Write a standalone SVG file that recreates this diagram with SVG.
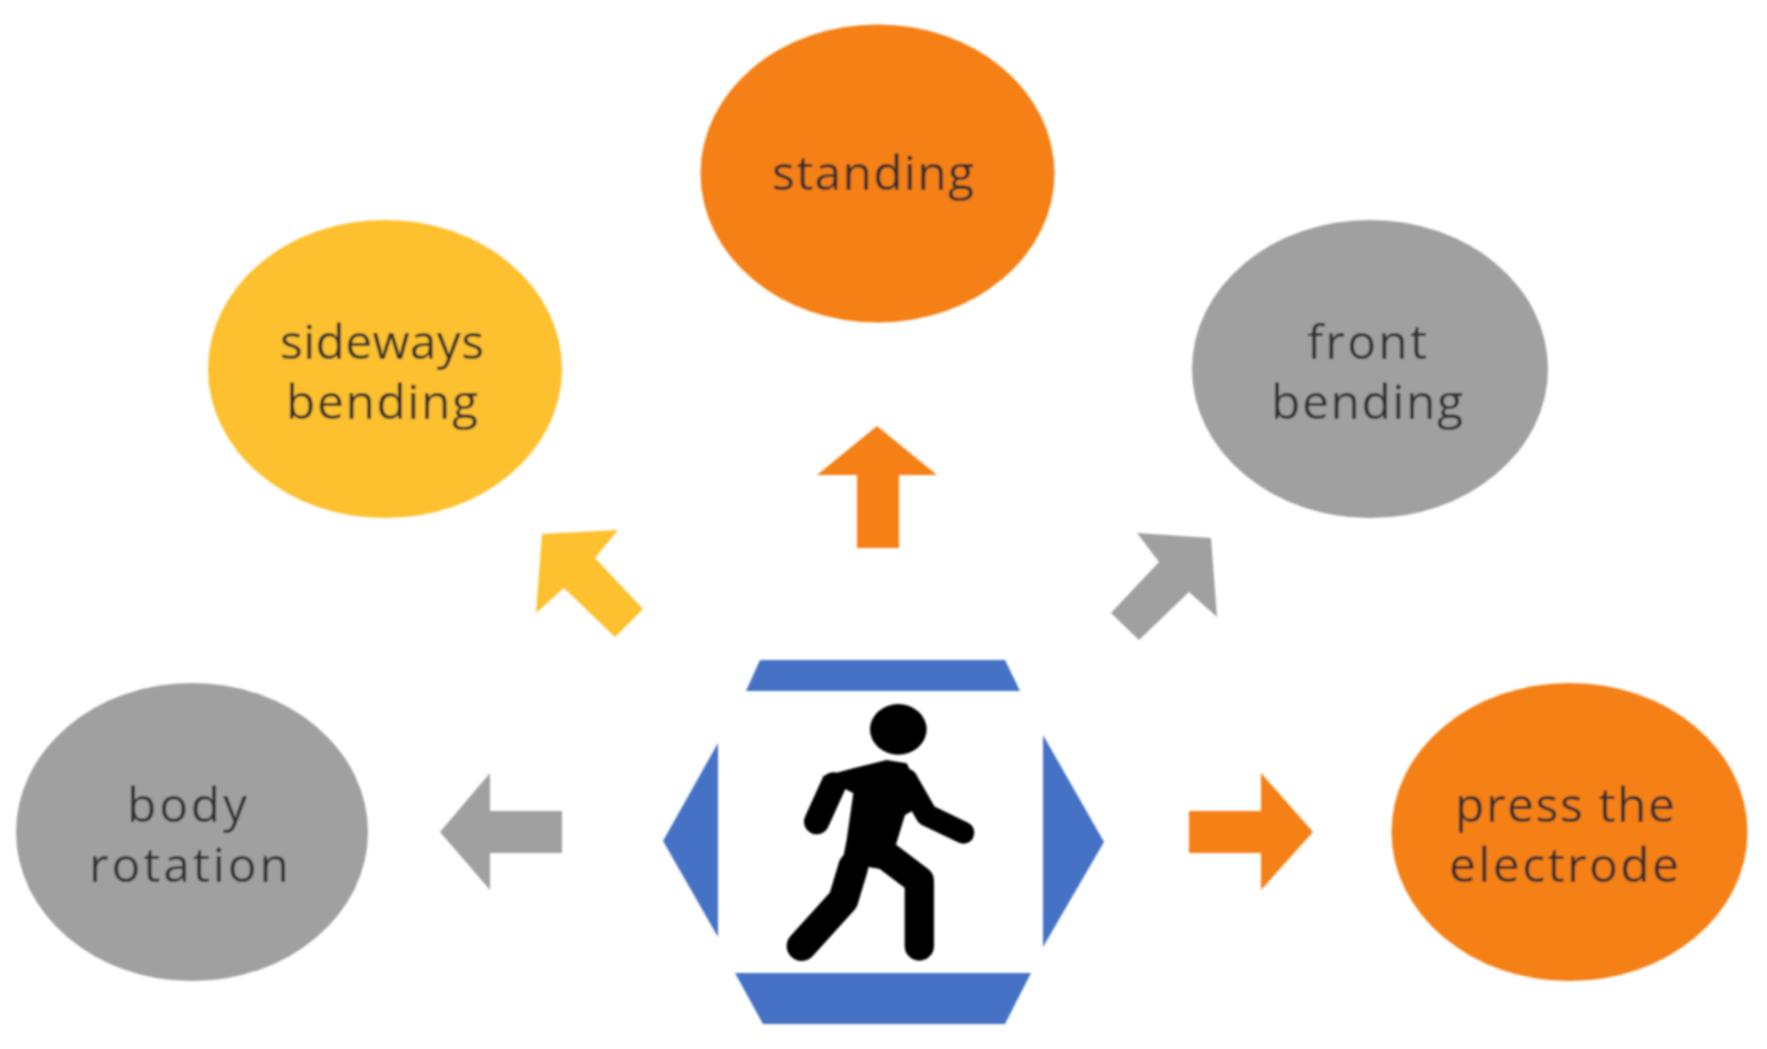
<svg xmlns="http://www.w3.org/2000/svg" width="1767" height="1049" viewBox="0 0 1767 1049">
<defs><filter id="soft" x="-2%" y="-2%" width="104%" height="104%"><feGaussianBlur stdDeviation="0.8"/></filter></defs>
<style>
.t{font-family:"Open Sans","Noto Sans","Liberation Sans",sans-serif;font-size:48px;fill:#2e2e2e;text-anchor:middle}
.o{fill:#f58018}.y{fill:#fdc02f}.g{fill:#a0a0a0}.b{fill:#4472c4}
.l{fill:none;stroke:#000;stroke-linecap:round;stroke-linejoin:round}
</style>
<rect width="1767" height="1049" fill="#fff"/>
<g filter="url(#soft)">
<g id="connectors">
<polygon class="o" points="877,426 937,475 899,475 899,548 857,548 857,475 817,475"/>
<polygon class="y" points="542,534 618,530 595,558 643,609 615,637 564,588 536,613"/>
<polygon class="g" points="1211,538 1137,533 1159,562 1111,613 1139,640 1189,592 1217,617"/>
<polygon class="g" points="440,832 490,773 490,811 562,811 562,853 490,853 490,890"/>
<polygon class="o" points="1313,832 1261,773 1261,811 1189,811 1189,853 1261,853 1261,890"/>
</g>
<g id="node-standing"><ellipse class="o" cx="877.5" cy="173.5" rx="177" ry="149"/><text class="t" x="873" y="190" textLength="202">standing</text></g>
<g id="node-sideways-bending"><ellipse class="y" cx="385" cy="369" rx="177" ry="149"/><text class="t" x="382" y="359" textLength="204">sideways</text><text class="t" x="382" y="419" textLength="192">bending</text></g>
<g id="node-front-bending"><ellipse class="g" cx="1370" cy="369" rx="178" ry="149"/><text class="t" x="1367" y="359" textLength="120">front</text><text class="t" x="1367" y="419" textLength="192">bending</text></g>
<g id="node-body-rotation"><ellipse class="g" cx="192" cy="832" rx="176" ry="149"/><text class="t" x="187" y="822" textLength="120">body</text><text class="t" x="189" y="882" textLength="200">rotation</text></g>
<g id="node-press-the-electrode"><ellipse class="o" cx="1569.5" cy="832" rx="178" ry="149"/><text class="t" x="1565" y="822" textLength="220">press the</text><text class="t" x="1564" y="882" textLength="230">electrode</text></g>
<g id="node-center">
<polygon class="b" points="760,660 1005,660 1020,691 746,691"/>
<polygon class="b" points="735,973 1031,973 1005,1024 763,1024"/>
<polygon class="b" points="718,743 663,841 718,937"/>
<polygon class="b" points="1043,735 1104,842 1043,947"/>
<g transform="translate(640 640) scale(.3333)">
<ellipse cx="775" cy="268" rx="85" ry="76"/>
<path d="M545 410L640 385L740 360L800 370L825 420L860 490L795 525L760 640L740 690L680 680L650 780L590 750L620 600L640 460Z"/>
<path class="l" stroke-width="76" d="M580 435L530 545"/>
<path class="l" stroke-width="66" d="M800 420L860 525L970 578"/>
<path class="l" stroke-width="88" d="M730 640L838 722L838 918"/>
<path class="l" stroke-width="90" d="M640 680L610 780L485 918"/>
</g>
</g>
</g>
</svg>
